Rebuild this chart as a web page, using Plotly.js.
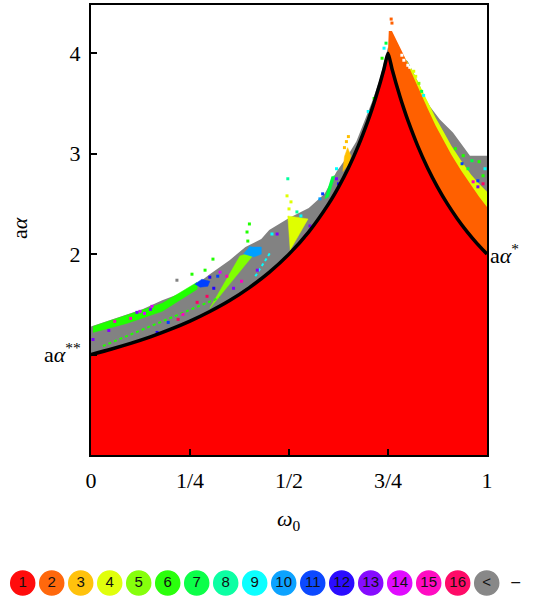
<!DOCTYPE html>
<html><head><meta charset="utf-8">
<script src="https://cdn.plot.ly/plotly-3.0.1.min.js"></script>
<style>html,body{margin:0;padding:0;background:#fff}#chart{width:545px;height:601px}</style>
</head><body><div id="chart"></div>
<script>
// ---- data ----
const palette = ['#FFFFFF','#FF0000','#FF6000','#FFBF00','#DFFF00','#80FF00','#20FF00','#00FF40','#00FF9F','#00FFFF','#009FFF','#0040FF','#2000FF','#8000FF','#DF00FF','#FF00BF','#FF0060','#828282'];
const legendLabels = ['1','2','3','4','5','6','7','8','9','10','11','12','13','14','15','16','<'];
const legendColorIdx = [1,2,3,4,5,6,7,8,9,10,11,12,13,14,15,16,17];

const xTickVals = [0, 0.25, 0.5, 0.75, 1];
const xTickText = ['0','1/4','1/2','3/4','1'];
const yTickVals = [1, 2, 3, 4];
const yTickText = ['a<i>α</i><sup>**</sup>','2','3','4'];

// boundary curve (black), region 1 below it
const curveX = [0,0.05,0.1,0.15,0.2,0.25,0.3,0.35,0.4,0.45,0.5,0.55,0.6,0.625,0.65,0.675,0.7,0.71,0.72,0.73,0.74,0.75,0.76,0.77,0.78,0.79,0.8,0.825,0.85,0.875,0.9,0.925,0.95,0.975,1.0];
const curveY = [1.000,1.053,1.111,1.176,1.250,1.333,1.429,1.538,1.667,1.818,2.000,2.222,2.500,2.667,2.857,3.077,3.333,3.448,3.571,3.704,3.846,4.000,3.846,3.704,3.571,3.448,3.333,3.077,2.857,2.667,2.500,2.353,2.222,2.105,2.000];

// upper edge of the grey ("<") region
const grayX = [0,0.03,0.08,0.13,0.18,0.22,0.26,0.3,0.35,0.39,0.43,0.45,0.5,0.55,0.59,0.62,0.645,0.67,0.69,0.71,0.73,0.75,0.77,0.8,0.83,0.84,0.856,0.881,0.914,0.94,0.957,1.0];
const grayY = [1.28,1.32,1.38,1.45,1.54,1.60,1.68,1.80,1.94,2.07,2.15,2.24,2.36,2.46,2.60,2.82,2.96,3.12,3.32,3.52,3.75,4.06,4.0,3.92,3.68,3.58,3.47,3.34,3.21,3.07,2.98,2.98];

// upper edge of the yellow (4) strip
const yellowX = [0.79,0.81,0.83,0.85,0.87,0.89,0.91,0.935,0.96,0.98,1.0];
const yellowY = [3.97,3.84,3.68,3.52,3.36,3.22,3.08,2.93,2.79,2.70,2.62];

// upper edge of the orange (2) region
const orangeX = [0.75,0.752,0.76,0.775,0.79,0.81,0.83,0.85,0.87,0.89,0.91,0.935,0.96,0.98,1.0];
const orangeY = [4.02,4.22,4.22,4.10,3.98,3.80,3.62,3.45,3.28,3.13,2.99,2.83,2.68,2.57,2.47];

// streaks and blobs
const greenStreakX = [0.005,0.09,0.18,0.268,0.268,0.18,0.09,0.005];
const greenStreakY = [1.28,1.39,1.51,1.72,1.65,1.43,1.31,1.22];
const greenDotLineX = [0.03,0.174,0.326];
const greenDotLineY = [1.085,1.32,1.57];
const limeWedgeX = [0.30,0.376,0.42,0.30];
const limeWedgeY = [1.46,1.98,2.04,1.46];
const yellowWedgeX = [0.497,0.548,0.503,0.497];
const yellowWedgeY = [2.38,2.35,2.04,2.38];
const blueBlobX = [0.262,0.28,0.30,0.295,0.275];
const blueBlobY = [1.70,1.75,1.73,1.68,1.67];
const skyBlobX = [0.385,0.40,0.43,0.43,0.41];
const skyBlobY = [2.00,2.07,2.07,2.00,1.97];
const orangeClusterX = [0.636,0.64,0.648,0.656,0.652];
const orangeClusterY = [2.82,2.97,3.06,2.98,2.90];
const green2X = [0.59,0.60,0.616,0.607];
const green2Y = [2.55,2.57,2.78,2.77];
const cyanLineX = [0.415,0.435,0.455];
const cyanLineY = [1.78,1.90,2.03];

// scattered points
const dotX = [0.005,0.06,0.116,0.124,0.135,0.15,0.154,0.167,0.195,0.22,0.232,0.268,0.217,0.10,0.045,
  0.285,0.30,0.32,0.31,0.293,0.343,0.326,0.42,0.36,0.38,0.394,0.396,0.40,0.402,0.308,0.288,0.255,
  0.497,0.5,0.505,0.495,0.52,0.53,0.553,0.54,0.47,0.457,0.578,0.585,0.62,0.62,0.625,0.645,0.64,0.65,
  0.76,0.758,0.735,0.74,0.745,0.715,0.70,0.785,0.79,0.80,0.795,0.805,0.815,0.82,0.828,0.835,0.84,
  0.94,0.962,0.98,0.977,0.965,0.99,0.995,0.952,0.977,0.937,0.92,0.99];
const dotY = [1.15,1.33,1.42,1.43,1.41,1.45,1.48,1.22,1.32,1.35,1.40,1.52,1.74,1.36,1.24,
  1.72,1.77,1.78,1.66,1.58,1.78,1.82,1.84,1.66,1.73,2.22,2.13,2.30,2.06,1.95,1.84,1.80,
  2.75,2.45,2.52,2.58,2.42,2.38,2.28,2.18,2.20,2.20,2.55,2.60,2.75,2.85,2.70,3.12,3.06,3.17,
  4.30,4.34,3.95,4.05,4.10,3.55,3.42,3.98,3.93,3.88,4.02,3.86,3.82,3.77,3.70,3.62,3.58,
  2.98,2.93,2.92,2.73,2.72,2.78,2.85,2.85,2.67,2.90,3.05,2.70];
const dotC = [13,15,13,14,14,13,14,12,11,16,15,16,17,15,13,
  11,12,11,12,16,15,14,13,13,15,6,6,6,10,6,6,6,
  8,4,4,4,8,9,13,15,13,9,10,11,13,9,12,3,3,3,
  2,2,6,9,7,6,9,0,0,0,0,0,4,4,5,7,9,
  6,7,6,11,15,6,9,7,13,11,6,16];

// ---- drawing ----
const serif = 'Liberation Serif, Times New Roman, serif';
function poly(x, y, c) {
  return {x:x, y:y, type:'scatter', mode:'lines', fill:'toself', fillcolor:c, line:{width:0.5, color:c}, hoverinfo:'skip', showlegend:false};
}
function region(x, y, c) {
  return {x:x, y:y, type:'scatter', mode:'lines', fill:'tozeroy', fillcolor:c, line:{width:0, color:c}, hoverinfo:'skip', showlegend:false};
}
const traces = [
  region(grayX, grayY, palette[17]),
  region(yellowX, yellowY, palette[4]),
  region(orangeX, orangeY, palette[2]),
  region(curveX, curveY, palette[1]),
  poly(greenStreakX, greenStreakY, palette[6]),
  poly(limeWedgeX, limeWedgeY, palette[5]),
  poly(yellowWedgeX, yellowWedgeY, palette[4]),
  poly(blueBlobX, blueBlobY, palette[11]),
  poly(skyBlobX, skyBlobY, palette[10]),
  poly(orangeClusterX, orangeClusterY, palette[3]),
  poly(green2X, green2Y, palette[7]),
  {x:greenDotLineX, y:greenDotLineY, type:'scatter', mode:'lines', line:{color:palette[6], width:2, dash:'dot'}, showlegend:false, hoverinfo:'skip'},
  {x:cyanLineX, y:cyanLineY, type:'scatter', mode:'lines', line:{color:palette[9], width:2, dash:'dot'}, showlegend:false, hoverinfo:'skip'},
  {x:dotX, y:dotY, type:'scatter', mode:'markers', marker:{symbol:'square', size:3, color:dotC.map(i=>palette[i])}, showlegend:false, hoverinfo:'skip'},
  {x:curveX, y:curveY, type:'scatter', mode:'lines', line:{color:'#000', width:3.5, shape:'spline', smoothing:0.6}, showlegend:false, hoverinfo:'skip'},
  {x:legendLabels.map((_,i)=>i+1), y:legendLabels.map(()=>0), xaxis:'x2', yaxis:'y2', type:'scatter', mode:'markers+text',
   text:legendLabels, textposition:'middle center', textfont:{family:'Liberation Sans Narrow, Liberation Sans, Arial, sans-serif', size:15, color:'#111'},
   marker:{size:24, color:legendColorIdx.map(i=>palette[i]), line:{width:1.5, color:legendColorIdx.map(i=>palette[i])}, opacity:0.95},
   showlegend:false, hoverinfo:'skip', cliponaxis:false},
  {x:[18], y:[0], xaxis:'x2', yaxis:'y2', type:'scatter', mode:'text', text:['–'], textposition:'middle center',
   textfont:{family:'Liberation Sans, Arial, sans-serif', size:16, color:'#111'}, showlegend:false, hoverinfo:'skip', cliponaxis:false}
];

const W = 545, H = 601;
const layout = {
  width: W, height: H,
  margin: {l:0, r:0, t:0, b:0},
  paper_bgcolor:'#fff', plot_bgcolor:'#fff',
  showlegend:false,
  xaxis: {domain:[91/W, 487/W], range:[0,1], tickvals:xTickVals, ticktext:xTickText,
    ticks:'inside', ticklen:6, tickwidth:2, tickcolor:'#000', showline:true, linewidth:2, linecolor:'#000', mirror:true,
    showgrid:false, zeroline:false, tickfont:{family:serif, size:22, color:'#000'}, ticklabelstandoff:5, fixedrange:true},
  yaxis: {domain:[1-455/H, 1-5/H], range:[0,4.48], tickvals:yTickVals, ticktext:yTickText,
    ticks:'inside', ticklen:6, tickwidth:2, tickcolor:'#000', showline:true, linewidth:2, linecolor:'#000', mirror:true,
    showgrid:false, zeroline:false, tickfont:{family:serif, size:22, color:'#000'}, ticklabelstandoff:4, fixedrange:true},
  xaxis2: {domain:[0,1], range:[0.217,19.01], visible:false, anchor:'y2', fixedrange:true},
  yaxis2: {domain:[1-598/H, 1-568/H], range:[-1,1], visible:false, anchor:'x2', fixedrange:true},
  annotations: [
    {text:'<i>ω</i><sub>0</sub>', xref:'paper', yref:'paper', x:289/W, y:1-520/H, showarrow:false, xanchor:'center', yanchor:'middle', font:{family:serif, size:22, color:'#000'}},
    {text:'a<i>α</i>', xref:'paper', yref:'paper', x:19/W, y:1-228/H, showarrow:false, textangle:-90, xanchor:'center', yanchor:'middle', font:{family:serif, size:22, color:'#000'}},
    {text:'a<i>α</i><sup>*</sup>', xref:'x', yref:'y', x:1, y:2, showarrow:false, xanchor:'left', yanchor:'middle', xshift:1, font:{family:serif, size:22, color:'#000'}}
  ]
};
Plotly.newPlot('chart', traces, layout, {staticPlot:true, displayModeBar:false});
</script>
</body></html>
